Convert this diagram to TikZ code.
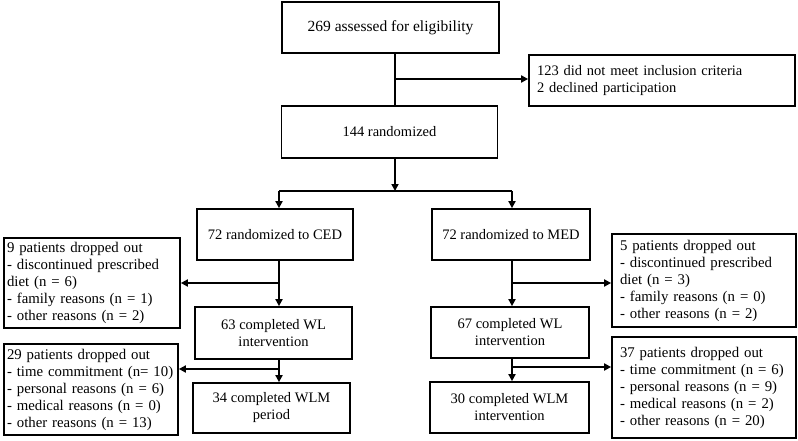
\documentclass[tikz,border=0pt]{standalone}
\usepackage{fontspec}
\setmainfont{Liberation Serif}
\usetikzlibrary{arrows.meta}
\begin{document}
\begin{tikzpicture}[x=1pt,y=-1pt,
  txt/.style={font=\fontsize{14.5}{17}\selectfont},
  dtxt/.style={font=\fontsize{14.8}{17}\selectfont},
  box/.style={txt, draw, line width=1.7pt, inner sep=0pt, align=center},
  lboxl/.style={dtxt, draw, line width=1.7pt, inner xsep=3pt, inner ysep=0pt, align=left},
  lboxr/.style={dtxt, draw, line width=1.7pt, inner xsep=8pt, inner ysep=0pt, align=left},
  conn/.style={line width=1.7pt},
  arr/.style={conn, -{Triangle[length=7pt,width=7pt]}}]
\useasboundingbox (0,0) rectangle (798,441);

% main column
\node[box, font=\fontsize{15.5}{17}\selectfont, minimum width=217pt, minimum height=51pt] (top) at (390.5,27.5) {269 assessed for eligibility};
\node[lboxr, font=\fontsize{14.5}{17}\selectfont, minimum width=266pt, minimum height=51pt, text width=250pt] (excl) at (662,80.5)
  {123 did not meet inclusion criteria\\2 declined participation};
\node[box, minimum width=216pt, minimum height=52pt] (rand) at (389.5,132) {144 randomized};

% arms
\node[box, minimum width=156pt, minimum height=51pt] (ced) at (275,234.5) {72 randomized to CED};
\node[box, minimum width=158pt, minimum height=51pt] (med) at (511,234.5) {72 randomized to MED};
\node[box, minimum width=157pt, minimum height=52pt] (c63) at (273.5,333) {63 completed WL\\intervention};
\node[box, minimum width=157pt, minimum height=50pt] (c34) at (271.5,408) {34 completed WLM\\period};
\node[box, minimum width=158pt, minimum height=51pt] (c67) at (510,332.5) {67 completed WL\\intervention};
\node[box, minimum width=159pt, minimum height=51pt] (c30) at (509.5,407.5) {30 completed WLM\\intervention};

% dropout boxes
\node[lboxl, minimum width=176pt, minimum height=90pt, text width=170pt] (dl1) at (92,283)
  {9 patients dropped out\\- discontinued prescribed\\diet (n = 6)\\- family reasons (n = 1)\\- other reasons (n = 2)};
\node[lboxl, minimum width=174pt, minimum height=91pt, text width=168pt] (dl2) at (91,389.5)
  {29 patients dropped out\\- time commitment (n= 10)\\- personal reasons (n = 6)\\- medical reasons (n = 0)\\- other reasons (n = 13)};
\node[lboxr, minimum width=184pt, minimum height=93pt, text width=168pt] (dr1) at (704,280.5)
  {5 patients dropped out\\- discontinued prescribed\\diet (n = 3)\\- family reasons (n = 0)\\- other reasons (n = 2)};
\node[lboxr, minimum width=184pt, minimum height=101pt, text width=168pt] (dr2) at (704,387.5)
  {37 patients dropped out\\- time commitment (n = 6)\\- personal reasons (n = 9)\\- medical reasons (n = 2)\\- other reasons (n = 20)};

% junction coordinates
\coordinate (mx) at (395,0);
\coordinate (lx) at (279,0);
\coordinate (rx) at (512,0);
\coordinate (j0) at (395,79);
\coordinate (jb) at (395,191);
\coordinate (jl1) at (279,283);
\coordinate (jl2) at (279,369);
\coordinate (jr1) at (512,283);
\coordinate (jr2) at (512,367);

% connectors
\draw[conn] (top.south -| mx) -- (rand.north -| mx);
\draw[arr] (j0) -- (j0 -| excl.west);
\draw[arr] (rand.south -| mx) -- (jb);
\draw[conn] (jb -| lx) -- (jb -| rx);
\draw[arr] (jb -| lx) -- (ced.north -| lx);
\draw[arr] (jb -| rx) -- (med.north -| rx);

\draw[arr] (ced.south -| lx) -- (c63.north -| lx);
\draw[arr] (c63.south -| lx) -- (c34.north -| lx);
\draw[arr] (jl1) -- (jl1 -| dl1.east);
\draw[arr] (jl2) -- (jl2 -| dl2.east);

\draw[arr] (med.south -| rx) -- (c67.north -| rx);
\draw[arr] (c67.south -| rx) -- (c30.north -| rx);
\draw[arr] (jr1) -- (jr1 -| dr1.west);
\draw[arr] (jr2) -- (jr2 -| dr2.west);
\end{tikzpicture}
\end{document}
